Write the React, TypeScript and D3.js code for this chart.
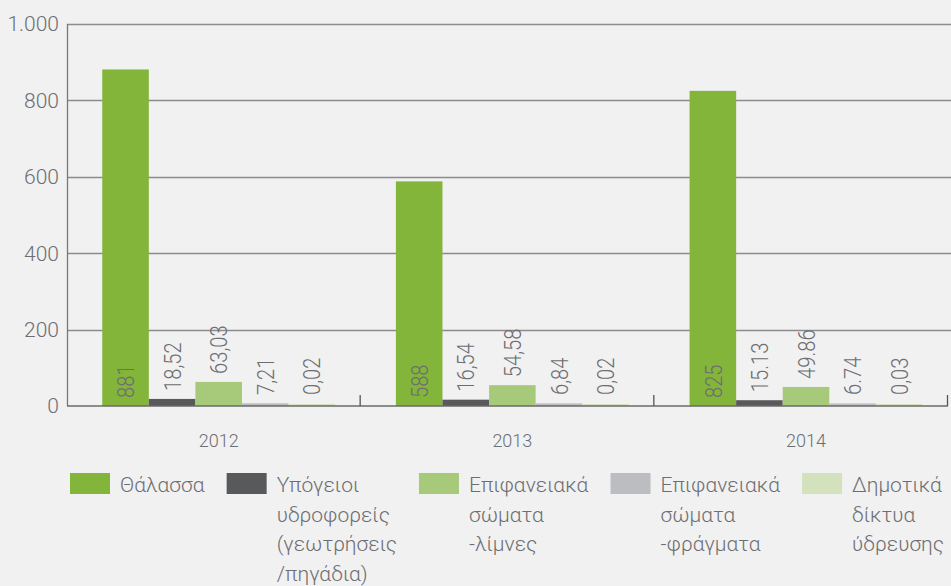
import React, { useEffect, useRef } from 'react'
import * as d3 from 'd3'

const years = ['2012', '2013', '2014']
const seriesNames = ['thalassa', 'ypogeioi', 'limnes', 'fragmata', 'diktya']
const seriesColors = ['#82b53a', '#58595b', '#a7c97a', '#bcbdc0', '#d3e2bd']
const legendLines = [
  ['Θάλασσα'],
  ['Υπόγειοι', 'υδροφορείς', '(γεωτρήσεις', '/πηγάδια)'],
  ['Επιφανειακά', 'σώματα', '-λίμνες'],
  ['Επιφανειακά', 'σώματα', '-φράγματα'],
  ['Δημοτικά', 'δίκτυα', 'ύδρευσης'],
]
// values per year, one per series
const values2012 = [881, 18.52, 63.03, 7.21, 0.02]
const values2013 = [588, 16.54, 54.58, 6.84, 0.02]
const values2014 = [825, 15.13, 49.86, 6.74, 0.03]
const labels2012 = ['881', '18,52', '63,03', '7,21', '0,02']
const labels2013 = ['588', '16,54', '54,58', '6,84', '0,02']
const labels2014 = ['825', '15.13', '49.86', '6.74', '0,03']
const yTicks = [0, 200, 400, 600, 800, 1000]
const yTickLabels = ['0', '200', '400', '600', '800', '1.000']

const width = 951
const height = 586
const FONT = 'Roboto, "DejaVu Sans", sans-serif'
const TEXT = '#6d6e71'

const App = () => {
  const svgRef = useRef(null)

  useEffect(() => {
    const svg = d3.select(svgRef.current)
    svg.selectAll('*').remove()

    const margin = { left: 67, right: 3, top: 24, bottom: 180 }
    const x0 = d3.scaleBand().domain(years).range([margin.left, width - margin.right]).padding(0)
    const bw = x0.bandwidth()
    const x1 = d3.scaleBand().domain(seriesNames).range([bw * 0.12, bw * 0.12 + bw * 0.793]).padding(0)
    const y = d3.scaleLinear().domain([0, 1000]).range([height - margin.bottom, margin.top])

    svg.append('rect').attr('width', width).attr('height', height).attr('fill', '#f1f1f1')

    // gridlines
    svg.append('g').selectAll('line')
      .data(yTicks.slice(1))
      .enter().append('line')
      .attr('x1', margin.left).attr('x2', width)
      .attr('y1', d => Math.round(y(d)) + 0.5).attr('y2', d => Math.round(y(d)) + 0.5)
      .attr('stroke', '#8c8c8c').attr('stroke-width', 1.3)

    // y labels
    svg.append('g').selectAll('text')
      .data(yTicks)
      .enter().append('text')
      .attr('x', margin.left - 8)
      .attr('y', d => y(d))
      .attr('dy', '0.35em')
      .attr('text-anchor', 'end')
      .attr('font-family', FONT).attr('font-weight', 300).attr('font-size', 21)
      .attr('fill', TEXT)
      .text((d, i) => yTickLabels[i])

    // left axis
    svg.append('line')
      .attr('x1', margin.left + 0.5).attr('x2', margin.left + 0.5)
      .attr('y1', y(1000)).attr('y2', y(0))
      .attr('stroke', '#777').attr('stroke-width', 1.3)

    const allValues = [values2012, values2013, values2014]
    const allLabels = [labels2012, labels2013, labels2014]

    years.forEach((yr, gi) => {
      const g = svg.append('g').attr('transform', `translate(${x0(yr)},0)`)
      const rows = seriesNames.map((s, i) => ({ s, v: allValues[gi][i], label: allLabels[gi][i], color: seriesColors[i], i }))
      g.selectAll('rect')
        .data(rows)
        .enter().append('rect')
        .attr('x', d => x1(d.s))
        .attr('width', x1.bandwidth())
        .attr('y', d => Math.min(y(d.v), y(0) - 2))
        .attr('height', d => Math.max(y(0) - y(d.v), 2))
        .attr('fill', d => d.color)

      g.selectAll('text')
        .data(rows)
        .enter().append('text')
        .attr('transform', d => {
          const cx = x1(d.s) + x1.bandwidth() / 2
          const base = d.i === 0 ? y(0) - 8 : Math.min(y(d.v), y(0) - 3) - 8
          return `translate(${cx},${base}) rotate(-90) scale(0.84,1)`
        })
        .attr('dy', '0.36em')
        .attr('font-family', FONT).attr('font-weight', 300).attr('font-size', 24)
        .attr('fill', TEXT)
        .text(d => d.label)
    })

    // bottom axis
    svg.append('line')
      .attr('x1', margin.left).attr('x2', width - margin.right)
      .attr('y1', y(0)).attr('y2', y(0))
      .attr('stroke', '#6a6a6a').attr('stroke-width', 1.6)
    const bounds = years.map(yr => x0(yr) + bw)
    svg.append('g').selectAll('line')
      .data(bounds)
      .enter().append('line')
      .attr('x1', d => d - 0.5).attr('x2', d => d - 0.5)
      .attr('y1', y(0)).attr('y2', y(0) - 11)
      .attr('stroke', '#555').attr('stroke-width', 1.3)

    svg.append('g').selectAll('text')
      .data(years)
      .enter().append('text')
      .attr('x', d => x0(d) + bw * 0.12 + bw * 0.793 / 2)
      .attr('y', y(0) + 41)
      .attr('text-anchor', 'middle')
      .attr('font-family', FONT).attr('font-weight', 300).attr('font-size', 18)
      .attr('fill', TEXT)
      .text(d => d)

    // legend
    const legend = svg.append('g')
    const items = legendLines.map((lines, i) => {
      const it = legend.append('g')
      it.append('rect').attr('x', 0).attr('y', 0).attr('width', 40).attr('height', 21).attr('fill', seriesColors[i])
      const t = it.append('text')
        .attr('font-family', FONT).attr('font-weight', 300).attr('font-size', 21)
        .attr('fill', TEXT)
      lines.forEach((ln, li) => {
        t.append('tspan').attr('x', 50).attr('y', 19 + li * 29.5).text(ln)
      })
      const w = 50 + (t.node() as any).getBBox().width
      return { it, w }
    })
    const legStart = 70
    const legEnd = 944
    const total = d3.sum(items, d => d.w)
    const gap = (legEnd - legStart - total) / (items.length - 1)
    let cx = legStart
    items.forEach(d => {
      d.it.attr('transform', `translate(${cx},473)`)
      cx += d.w + gap
    })
  }, [])

  return (
    <div>
      <svg ref={svgRef} width={width} height={height} style={{ position: 'absolute', left: 0, top: 0, display: 'block' }}></svg>
    </div>
  )
}

export default App
